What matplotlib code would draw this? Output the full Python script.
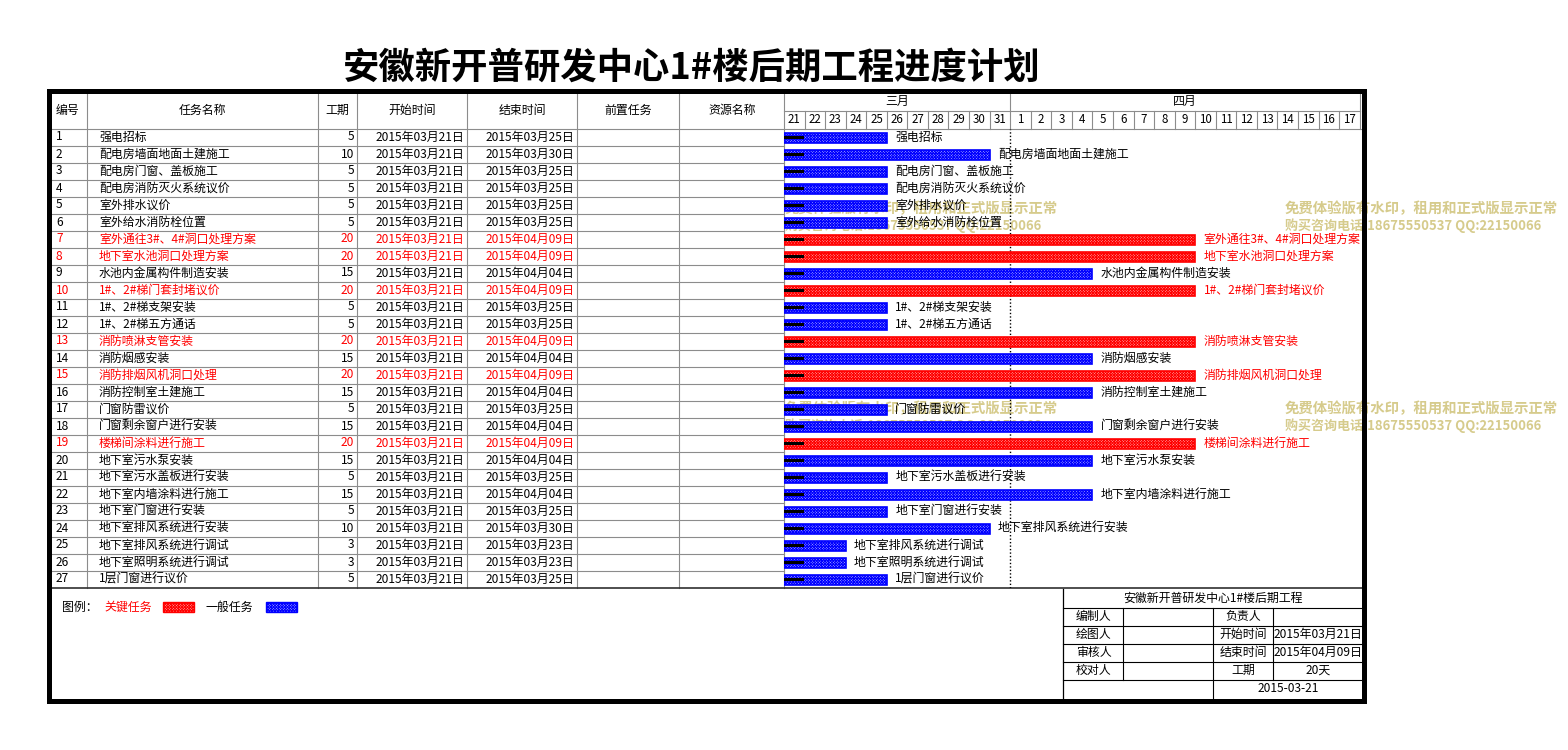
import matplotlib
matplotlib.use('Agg')
import matplotlib.pyplot as plt
from matplotlib.patches import Rectangle
import pandas as pd

plt.rcParams['font.family'] = ['Noto Sans CJK SC', 'DejaVu Sans']
plt.rcParams['hatch.linewidth'] = 0.7

# ---------------- data ----------------
title = '安徽新开普研发中心1#楼后期工程进度计划'
col_headers = ['编号', '任务名称', '工期', '开始时间', '结束时间', '前置任务', '资源名称']
task_ids = list(range(1, 28))
task_names = [
    '强电招标', '配电房墙面地面土建施工', '配电房门窗、盖板施工', '配电房消防灭火系统议价',
    '室外排水议价', '室外给水消防栓位置', '室外通往3#、4#洞口处理方案', '地下室水池洞口处理方案',
    '水池内金属构件制造安装', '1#、2#梯门套封堵议价', '1#、2#梯支架安装', '1#、2#梯五方通话',
    '消防喷淋支管安装', '消防烟感安装', '消防排烟风机洞口处理', '消防控制室土建施工',
    '门窗防雷议价', '门窗剩余窗户进行安装', '楼梯间涂料进行施工', '地下室污水泵安装',
    '地下室污水盖板进行安装', '地下室内墙涂料进行施工', '地下室门窗进行安装', '地下室排风系统进行安装',
    '地下室排风系统进行调试', '地下室照明系统进行调试', '1层门窗进行议价']
durations = [5, 10, 5, 5, 5, 5, 20, 20, 15, 20, 5, 5, 20, 15, 20, 15, 5, 15, 20, 15,
             5, 15, 5, 10, 3, 3, 5]
start_dates = ['2015-03-21'] * 27
end_dates = ['2015-03-25', '2015-03-30', '2015-03-25', '2015-03-25', '2015-03-25', '2015-03-25',
             '2015-04-09', '2015-04-09', '2015-04-04', '2015-04-09', '2015-03-25', '2015-03-25',
             '2015-04-09', '2015-04-04', '2015-04-09', '2015-04-04', '2015-03-25', '2015-04-04',
             '2015-04-09', '2015-04-04', '2015-03-25', '2015-04-04', '2015-03-25', '2015-03-30',
             '2015-03-23', '2015-03-23', '2015-03-25']
critical = [False, False, False, False, False, False, True, True, False, True, False, False,
            True, False, True, False, False, False, True, False, False, False, False, False,
            False, False, False]
progress_days = [0.95] * 27
timeline_start = '2015-03-21'
month_labels = ['三月', '四月']
month_lengths = [11, 17]
day_labels = [21, 22, 23, 24, 25, 26, 27, 28, 29, 30, 31,
              1, 2, 3, 4, 5, 6, 7, 8, 9, 10, 11, 12, 13, 14, 15, 16, 17]

legend_title = '图例：'
legend_items = ['关键任务', '一般任务']
info_title = '安徽新开普研发中心1#楼后期工程'
info_left = ['编制人', '绘图人', '审核人', '校对人']
info_mid = ['负责人', '开始时间', '结束时间', '工期']
info_right = ['', '2015年03月21日', '2015年04月09日', '20天']
report_date = '2015-03-21'
watermark = ['免费体验版有水印，租用和正式版显示正常', '购买咨询电话:18675550537 QQ:22150066']

# ---------------- layout (pixels) ----------------
W, H = 1568, 750
col_x = [51, 87.5, 318, 357.5, 467.5, 577.5, 679.5, 784]
gx0 = 784
day_w = 20.56
n_days = len(day_labels)
gx1 = gx0 + n_days * day_w
hdr_top, month_bot, hdr_bot = 93, 110.5, 128.5
row_h = 17
n_rows = len(task_names)
rows_bot = hdr_bot + n_rows * row_h
right_edge = 1362
grid_c = '#8c8c8c'
fs = 8.6
RED = '#ff0000'
BLUE = '#0000ff'
RED_FILL = '#ffb0b0'
BLUE_FILL = '#b0b0ff'
WM = '#d6cb8c'
HATCH = 'x' * 12

fig = plt.figure(figsize=(W / 100, H / 100), dpi=100)
fig.patch.set_facecolor('white')

bg = fig.add_axes([0, 0, 1, 1], zorder=0)
bg.set_xlim(0, W)
bg.set_ylim(H, 0)
bg.axis('off')

# title
bg.text(691.5, 68, title, ha='center', va='center', fontsize=26.2, fontweight='bold', color='black')

# table grid
for x in col_x[1:]:
    bg.plot([x, x], [hdr_top, rows_bot], color=grid_c, lw=0.8)
bg.plot([col_x[0], right_edge], [hdr_bot, hdr_bot], color=grid_c, lw=0.8)
for i in range(1, n_rows):
    y = hdr_bot + i * row_h
    bg.plot([col_x[0], gx0], [y, y], color=grid_c, lw=0.8)
bg.plot([col_x[0], right_edge], [rows_bot, rows_bot], color='#303030', lw=1.2)

# header texts
hy = (hdr_top + hdr_bot) / 2
bg.text(56, hy, col_headers[0], ha='left', va='center', fontsize=fs)
for j in range(1, len(col_headers)):
    bg.text((col_x[j] + col_x[j + 1]) / 2, hy, col_headers[j], ha='center', va='center', fontsize=fs)

base = pd.Timestamp(timeline_start)


def cn_date(s):
    t = pd.Timestamp(s)
    return f'{t.year}年{t.month:02d}月{t.day:02d}日'


for i in range(n_rows):
    y = hdr_bot + (i + 0.5) * row_h
    c = RED if critical[i] else 'black'
    bg.text(56, y, str(task_ids[i]), ha='left', va='center', fontsize=fs, color=c)
    bg.text(99, y, task_names[i], ha='left', va='center', fontsize=fs, color=c)
    bg.text(354, y, str(durations[i]), ha='right', va='center', fontsize=fs, color=c)
    bg.text(464, y, cn_date(start_dates[i]), ha='right', va='center', fontsize=fs, color=c)
    bg.text(574, y, cn_date(end_dates[i]), ha='right', va='center', fontsize=fs, color=c)

# watermarks
for (wx, wy) in [(785, 209), (1285, 209), (785, 409), (1285, 409)]:
    bg.text(wx, wy, watermark[0], ha='left', va='center', fontsize=10.4, fontweight='bold', color=WM)
    bg.text(wx, wy + 17, watermark[1], ha='left', va='center', fontsize=9.4, fontweight='bold', color=WM)

# legend
ly = 607
bg.text(62, ly, legend_title, ha='left', va='center', fontsize=fs, color='black')
bg.text(104, ly, legend_items[0], ha='left', va='center', fontsize=fs, color=RED)
bg.add_patch(Rectangle((163, 602), 31, 10, facecolor=RED_FILL, edgecolor=RED, hatch=HATCH, lw=1.0))
bg.text(206, ly, legend_items[1], ha='left', va='center', fontsize=fs, color='black')
bg.add_patch(Rectangle((266, 602), 31, 10, facecolor=BLUE_FILL, edgecolor=BLUE, hatch=HATCH, lw=1.0))

# info table
it_x = [1063.5, 1123.5, 1213.5, 1273.5, right_edge]
it_y = [589, 607.5, 625.5, 643.5, 661.5, 679.5, 700]
for y in it_y[1:-1]:
    bg.plot([it_x[0], right_edge], [y, y], color='black', lw=0.8)
bg.plot([it_x[0], it_x[0]], [it_y[0], it_y[-1]], color='black', lw=0.9)
bg.plot([it_x[1], it_x[1]], [it_y[1], it_y[5]], color='black', lw=0.8)
bg.plot([it_x[2], it_x[2]], [it_y[1], it_y[-1]], color='black', lw=0.8)
bg.plot([it_x[3], it_x[3]], [it_y[1], it_y[5]], color='black', lw=0.8)
bg.text((it_x[0] + right_edge) / 2, (it_y[0] + it_y[1]) / 2, info_title, ha='center', va='center', fontsize=fs)
for k in range(4):
    cy = (it_y[k + 1] + it_y[k + 2]) / 2
    bg.text((it_x[0] + it_x[1]) / 2, cy, info_left[k], ha='center', va='center', fontsize=fs)
    bg.text((it_x[2] + it_x[3]) / 2, cy, info_mid[k], ha='center', va='center', fontsize=fs)
    bg.text((it_x[3] + right_edge) / 2, cy, info_right[k], ha='center', va='center', fontsize=fs)
bg.text((it_x[2] + right_edge) / 2, (it_y[5] + it_y[6]) / 2 - 1.5, report_date, ha='center', va='center', fontsize=fs)

# ---------------- timeline header axes ----------------
hx = fig.add_axes([gx0 / W, 1 - hdr_bot / H, (gx1 - gx0) / W, (hdr_bot - hdr_top) / H], zorder=1)
hx.set_xlim(0, n_days)
hx.set_ylim(1, 0)
hx.axis('off')
hx.patch.set_alpha(0)
mfrac = (month_bot - hdr_top) / (hdr_bot - hdr_top)
hx.plot([0, n_days], [mfrac, mfrac], color=grid_c, lw=0.8, clip_on=False)
for d in range(1, n_days + 1):
    hx.plot([d, d], [mfrac, 1], color=grid_c, lw=0.8, clip_on=False)
pos = 0
for m, L in zip(month_labels, month_lengths):
    hx.text(pos + L / 2, mfrac / 2, m, ha='center', va='center', fontsize=fs)
    pos += L
    hx.plot([pos, pos], [0, mfrac], color=grid_c, lw=0.8, clip_on=False)
for d, lab in enumerate(day_labels):
    hx.text(d + 0.5, (1 + mfrac) / 2, str(lab), ha='center', va='center', fontsize=8.3)

# ---------------- gantt axes ----------------
gx = fig.add_axes([gx0 / W, 1 - rows_bot / H, (gx1 - gx0) / W, (rows_bot - hdr_bot) / H], zorder=2)
gx.set_xlim(0, n_days)
gx.set_ylim(n_rows, 0)
gx.axis('off')
gx.patch.set_alpha(0)
gx.axvline(month_lengths[0], color='black', lw=1.0, ls=(0, (1, 1.5)))

for i in range(n_rows):
    s = (pd.Timestamp(start_dates[i]) - base).days
    c = RED if critical[i] else BLUE
    fc = RED_FILL if critical[i] else BLUE_FILL
    yc = i + 0.53
    gx.barh(yc, durations[i], left=s, height=10 / row_h, facecolor=fc, edgecolor=c,
            hatch=HATCH, lw=1.2, zorder=2)
    gx.barh(yc, progress_days[i], left=s, height=3 / row_h, color='black', lw=0, zorder=3)
    gx.annotate(task_names[i], (s + durations[i], i + 0.5), xytext=(6, 0), textcoords='offset points',
                ha='left', va='center', fontsize=fs, color=(RED if critical[i] else 'black'),
                annotation_clip=False, zorder=4)

# ---------------- outer border ----------------
top = fig.add_axes([0, 0, 1, 1], zorder=5)
top.set_xlim(0, W)
top.set_ylim(H, 0)
top.axis('off')
top.patch.set_alpha(0)
top.add_patch(Rectangle((49.5, 91), 1364 - 49.5, 700.5 - 91, fill=False, edgecolor='black', lw=3.6))

fig.savefig('out.png', dpi=100, facecolor='white')
